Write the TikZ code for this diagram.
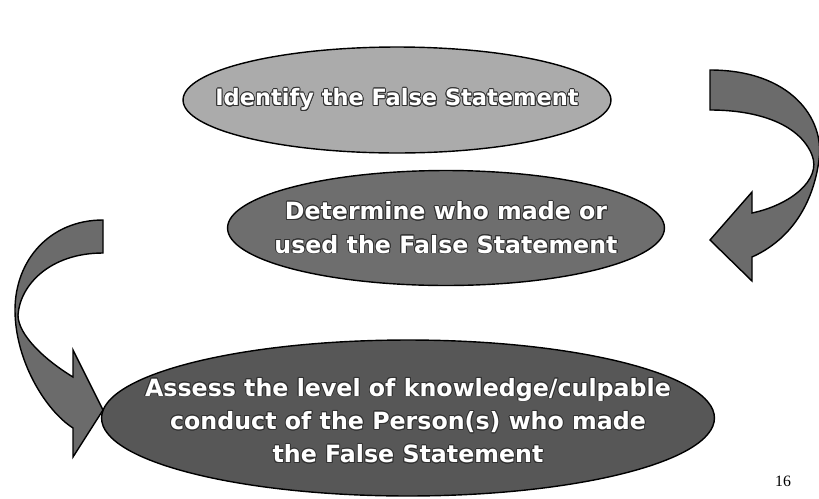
\documentclass[tikz,border=0pt]{standalone}
\usepackage{fontspec}
\setmainfont{DejaVu Sans}
\newfontfamily\pagefont{Liberation Serif}
\usepackage{contour}
\contourlength{0.5pt}
\usepackage{tikz}
\usetikzlibrary{shapes.geometric}

\newcommand{\steptext}[1]{\contour{black!80}{\color{white}#1}}

\begin{document}
\begin{tikzpicture}[
    x=0.02cm, y=-0.02cm,
    stage/.style={ellipse, draw=black, line width=0.8pt, inner sep=0pt},
    steplabel/.style={align=center, font=\fontsize{13.5}{19}\selectfont\bfseries},
    bigarrow/.style={draw=black, line width=0.8pt, fill=black!58, line join=miter}
]
    \useasboundingbox (0,0) rectangle (819,498);

    % Steps
    \node[stage, fill=black!33, minimum width=8.56cm, minimum height=2.12cm] (identify) at (397,100) {};
    \node[stage, fill=black!57, minimum width=8.74cm, minimum height=2.30cm] (determine) at (446,228) {};
    \node[stage, fill=black!66, minimum width=12.26cm, minimum height=3.12cm] (assess) at (408,418) {};

    % Texts
    \node[steplabel, font=\fontsize{12.8}{19}\selectfont\bfseries] (identifytext) at (identify) {\steptext{Identify the False Statement}};
    \node[steplabel] (determinetext) at (determine) {\steptext{Determine who made or}\\\steptext{used the False Statement}};
    \node[steplabel] (assesstext) at ([yshift=-0.06cm]assess) {\steptext{Assess the level of knowledge/culpable}\\\steptext{conduct of the Person(s) who made}\\\steptext{the False Statement}};

    % Curved arrows
    \draw[bigarrow] (710,70) .. controls (790,70) and (825,118) .. (819,160)
        .. controls (813,205) and (790,240) .. (752,257) -- (752,281) -- (710,240)
        -- (752,192) -- (752,213) .. controls (790,205) and (822,180) .. (812,155)
        .. controls (800,125) and (760,110) .. (710,110) -- cycle;
    \draw[bigarrow] (103,220) .. controls (50,220) and (15,260) .. (15,310)
        .. controls (15,360) and (45,410) .. (73,428) -- (73,457) -- (103,410)
        -- (73,350) -- (73,377) .. controls (45,360) and (18,335) .. (18,315)
        .. controls (20,285) and (50,253) .. (103,253) -- cycle;

    % Page number
    \node[font=\pagefont\small] (page) at (783,481) {16};
\end{tikzpicture}
\end{document}
